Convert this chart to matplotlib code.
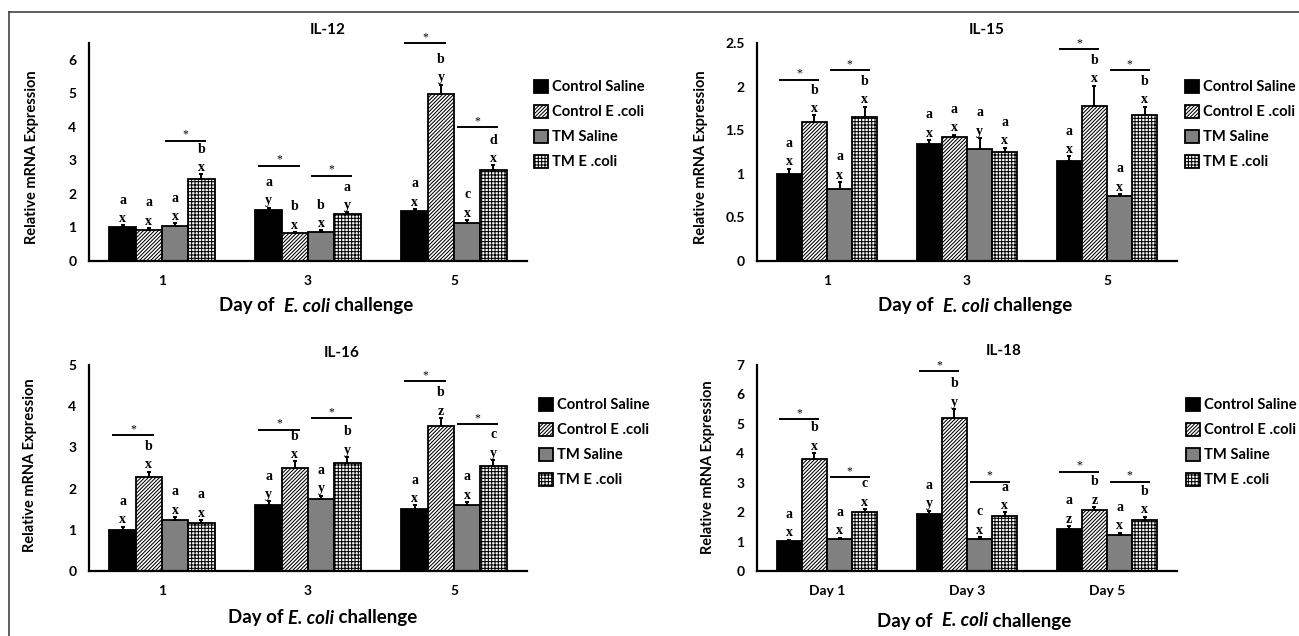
import numpy as np
import matplotlib.pyplot as plt
from matplotlib.lines import Line2D

plt.rcParams['font.family'] = ['Lato', 'DejaVu Sans']
plt.rcParams['hatch.linewidth'] = 0.75

W, H = 1299, 636

groups = ['Control Saline', 'Control E .coli', 'TM Saline', 'TM E .coli']
colors = ['black', 'white', '#808080', 'white']
hatches = [None, '/////////', None, '+++++']

days_num = ['1', '3', '5']
days_txt = ['Day 1', 'Day 3', 'Day 5']

# rows = treatment groups, columns = day 1, 3, 5
il12_mean = [[1.00, 1.53, 1.50], [0.93, 0.82, 4.99], [1.05, 0.87, 1.13], [2.45, 1.39, 2.72]]
il12_err = [[0.06, 0.06, 0.05], [0.05, 0.04, 0.27], [0.07, 0.04, 0.09], [0.13, 0.06, 0.13]]
il12_up = [['a', 'a', 'a'], ['a', 'b', 'b'], ['a', 'b', 'c'], ['b', 'a', 'd']]
il12_lo = [['x', 'y', 'x'], ['x', 'x', 'y'], ['x', 'x', 'x'], ['x', 'y', 'x']]
il12_star = [(0, 2, 3.59), (1, 0, 2.84), (1, 2, 2.54), (2, 0, 6.50), (2, 2, 4.00)]

il15_mean = [[1.00, 1.34, 1.15], [1.59, 1.42, 1.78], [0.82, 1.29, 0.74], [1.65, 1.25, 1.67]]
il15_err = [[0.06, 0.05, 0.05], [0.08, 0.03, 0.23], [0.085, 0.12, 0.03], [0.12, 0.05, 0.10]]
il15_up = [['a', 'a', 'a'], ['b', 'a', 'b'], ['a', 'a', 'a'], ['b', 'a', 'b']]
il15_lo = [['x', 'x', 'x'], ['x', 'x', 'x'], ['x', 'y', 'x'], ['x', 'x', 'x']]
il15_star = [(0, 0, 2.08), (0, 2, 2.19), (2, 0, 2.43), (2, 2, 2.19)]

il16_mean = [[1.00, 1.59, 1.51], [2.28, 2.51, 3.52], [1.24, 1.75, 1.59], [1.17, 2.62, 2.56]]
il16_err = [[0.08, 0.10, 0.08], [0.13, 0.15, 0.19], [0.07, 0.08, 0.08], [0.07, 0.15, 0.13]]
il16_up = [['a', 'a', 'a'], ['b', 'b', 'b'], ['a', 'a', 'a'], ['a', 'b', 'c']]
il16_lo = [['x', 'y', 'x'], ['x', 'x', 'z'], ['x', 'y', 'x'], ['x', 'y', 'y']]
il16_star = [(0, 0, 3.29), (1, 0, 3.43), (1, 2, 3.71), (2, 0, 4.60), (2, 2, 3.57)]

il18_mean = [[1.02, 1.94, 1.44], [3.80, 5.21, 2.08], [1.08, 1.09, 1.23], [2.00, 1.88, 1.75]]
il18_err = [[0.05, 0.11, 0.08], [0.21, 0.29, 0.10], [0.05, 0.06, 0.07], [0.10, 0.11, 0.10]]
il18_up = [['a', 'a', 'a'], ['b', 'b', 'b'], ['a', 'c', 'a'], ['c', 'a', 'b']]
il18_lo = [['x', 'y', 'z'], ['x', 'y', 'z'], ['x', 'x', 'x'], ['x', 'x', 'x']]
il18_star = [(0, 0, 5.15), (0, 2, 3.19), (1, 0, 6.79), (1, 2, 3.04), (2, 0, 3.37), (2, 2, 3.04)]

fig = plt.figure(figsize=(W / 100, H / 100), dpi=100)
bw = 0.18
serif = 'Liberation Serif'


def px_axes(l, t, r, b):
    return fig.add_axes([l / W, 1 - b / H, (r - l) / W, (b - t) / H])


def xlabel_px(cx, cy, pre, post):
    # "E. coli" in italics, the rest upright, glued on each side
    mid = fig.text(cx / W, 1 - cy / H, 'E. coli', ha='center', va='center',
                   fontsize=13.5, weight='bold', style='italic')
    plt.annotate(pre, xy=(0, 0), xycoords=mid, ha='right', va='bottom',
                 fontsize=13.5, weight='bold', annotation_clip=False)
    plt.annotate(post, xy=(1, 0), xycoords=mid, ha='left', va='bottom',
                 fontsize=13.5, weight='bold', annotation_clip=False)


def panel(box, mean, err, up, lo, stars, ymax, yticks, ytl, xtl, title, tpos,
          ylpos, xlpos, pre, legpos):
    ax = px_axes(*box)
    mean = np.array(mean)
    err = np.array(err)
    x = np.arange(3)
    for i in range(4):
        xi = x + (i - 1.5) * bw
        ax.bar(xi, mean[i], bw, color=colors[i], edgecolor='black', linewidth=1.3,
               hatch=hatches[i], label=groups[i], zorder=2)
        ax.errorbar(xi, mean[i], yerr=[np.zeros(3), err[i]], fmt='none',
                    ecolor='black', elinewidth=1.4, capsize=1.2, capthick=1.4, zorder=3)
        for d in range(3):
            ax.annotate(up[i][d] + '\n' + lo[i][d], (xi[d], mean[i][d] + err[i][d]),
                        xytext=(0, 0.2), textcoords='offset points', ha='center',
                        va='bottom', fontsize=10, family=serif, weight='bold',
                        linespacing=1.55, annotation_clip=False)
    for d, i, h in stars:
        xl = d + (i - 1.5) * bw
        ax.plot([xl - 0.35 * bw, xl + 1.15 * bw], [h, h], color='black', lw=1.4,
                clip_on=False, zorder=4)
        ax.annotate('*', (xl + 0.4 * bw, h), xytext=(0, 0), textcoords='offset points',
                    ha='center', va='bottom', fontsize=8.5, family=serif,
                    annotation_clip=False)
    ax.set_xlim(-0.5, 2.5)
    ax.set_ylim(0, ymax)
    ax.set_yticks(yticks)
    ax.set_yticklabels(ytl)
    ax.set_xticks(x)
    ax.set_xticklabels(xtl)
    ax.tick_params(length=0, labelsize=10)
    ax.tick_params(axis='y', pad=9)
    ax.tick_params(axis='x', pad=10)
    for lab in ax.get_xticklabels() + ax.get_yticklabels():
        lab.set_fontweight('bold')
    for s in ['top', 'right']:
        ax.spines[s].set_visible(False)
    for s in ['left', 'bottom']:
        ax.spines[s].set_linewidth(1.6)
    fig.text(tpos[0] / W, 1 - tpos[1] / H, title, ha='center', va='center',
             fontsize=11, weight='bold')
    fig.text(ylpos[0] / W, 1 - ylpos[1] / H, 'Relative mRNA Expression', rotation=90,
             ha='center', va='center', fontsize=10.5, weight='bold')
    xlabel_px(xlpos[0], xlpos[1], pre, ' challenge')
    ax.legend(loc='upper left', bbox_to_anchor=(legpos[0] / W, 1 - legpos[1] / H),
              bbox_transform=fig.transFigure, frameon=False, borderpad=0,
              borderaxespad=0, handlelength=0.95, handleheight=0.95,
              handletextpad=0.25, labelspacing=0.72,
              prop={'size': 10.6, 'weight': 'bold'})
    return ax


panel((89, 43, 527, 261), il12_mean, il12_err, il12_up, il12_lo, il12_star, 6.5,
      [0, 1, 2, 3, 4, 5, 6], ['0', '1', '2', '3', '4', '5', '6'], days_num,
      'IL-12', (328, 30), (32, 157), (307, 306), 'Day of  ', (534, 80))
panel((757, 43, 1177, 261), il15_mean, il15_err, il15_up, il15_lo, il15_star, 2.5,
      [0, 0.5, 1, 1.5, 2, 2.5], ['0', '0.5', '1', '1.5', '2', '2.5'], days_num,
      'IL-15', (987, 30), (701, 157), (966, 306), 'Day of  ', (1185, 80))
panel((89, 365, 527, 571), il16_mean, il16_err, il16_up, il16_lo, il16_star, 5,
      [0, 1, 2, 3, 4, 5], ['0', '1', '2', '3', '4', '5'], days_num,
      'IL-16', (342, 353), (30, 465), (311, 618), 'Day of ', (539, 398))
panel((757, 365, 1177, 571), il18_mean, il18_err, il18_up, il18_lo, il18_star, 7,
      [0, 1, 2, 3, 4, 5, 6, 7], ['0', '1', '2', '3', '4', '5', '6', '7'], days_txt,
      'IL-18', (1004, 351), (708, 467), (965, 621), 'Day of  ', (1186, 398))

# outer frame (top and left edges)
fig.add_artist(Line2D([9 / W, 1], [1 - 12 / H, 1 - 12 / H], transform=fig.transFigure,
                      color='#333333', lw=1.1))
fig.add_artist(Line2D([9 / W, 9 / W], [0, 1 - 12 / H], transform=fig.transFigure,
                      color='#333333', lw=1.1))

fig.savefig('out.png', dpi=100)
